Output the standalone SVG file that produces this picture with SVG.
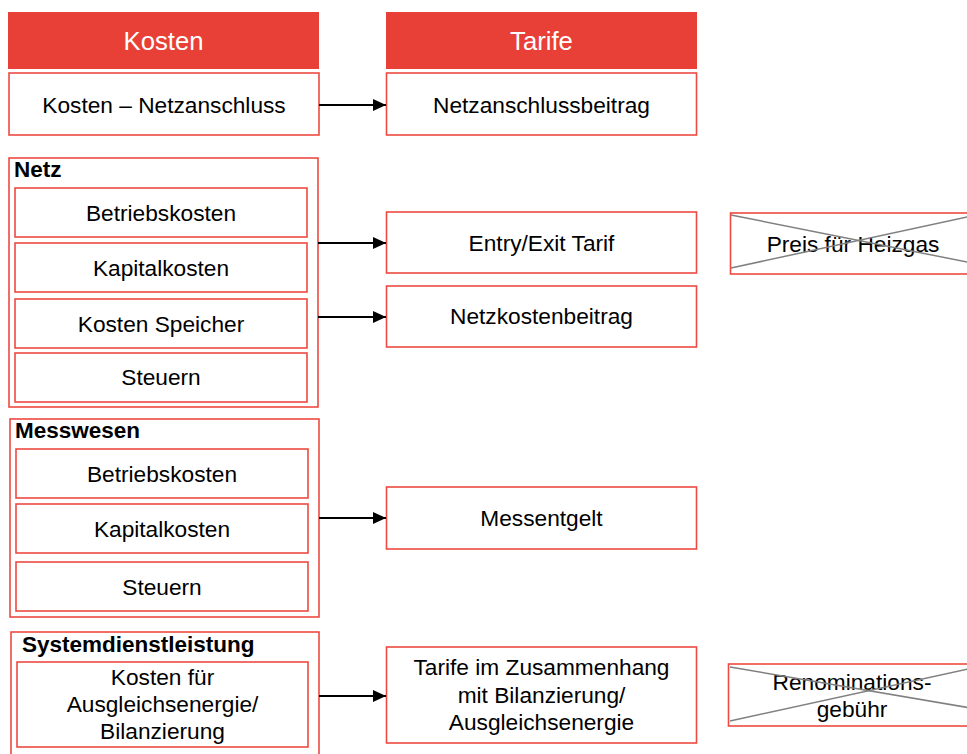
<svg xmlns="http://www.w3.org/2000/svg" width="967" height="754" viewBox="0 0 967 754">
<defs>
<marker id="ah" markerWidth="13" markerHeight="12" refX="13" refY="6" orient="auto" markerUnits="userSpaceOnUse">
<path d="M0,0 L13,6 L0,12 Z" fill="#000"/>
</marker>
<style>
.hdr{fill:#e84037;}
.box{fill:#fff;stroke:#ee4a42;stroke-width:1.6;}
.grp{fill:none;stroke:#ee4a42;stroke-width:1.6;}
.t{font-family:"Liberation Sans",Arial,sans-serif;font-size:22.7px;fill:#000;text-anchor:middle;}
.h{font-family:"Liberation Sans",Arial,sans-serif;font-size:25.7px;fill:#fff;text-anchor:middle;}
.b{font-family:"Liberation Sans",Arial,sans-serif;font-size:22.5px;font-weight:bold;fill:#000;}
.x{stroke:#808080;stroke-width:1.5;fill:none;}
.c{stroke:#000;stroke-width:2;fill:none;marker-end:url(#ah);}
</style>
</defs>
<rect width="967" height="754" fill="#fff"/>

<g id="hdr-kosten"><rect class="hdr" x="8" y="12" width="311" height="57"/><text class="h" x="163.5" y="50">Kosten</text></g>
<g id="hdr-tarife"><rect class="hdr" x="386" y="12" width="311" height="57"/><text class="h" x="541.5" y="50">Tarife</text></g>

<g id="kosten-netzanschluss"><rect class="box" x="9" y="73" width="310" height="62"/><text class="t" x="164" y="113">Kosten – Netzanschluss</text></g>
<g id="netzanschlussbeitrag"><rect class="box" x="386.5" y="73" width="310" height="62"/><text class="t" x="541.5" y="113">Netzanschlussbeitrag</text></g>

<g id="netz">
<rect class="grp" x="9" y="158" width="309" height="249"/>
<text class="b" x="14" y="177">Netz</text>
<rect class="box" x="15" y="188" width="292" height="49"/><text class="t" x="161" y="221">Betriebskosten</text>
<rect class="box" x="15" y="243" width="292" height="49"/><text class="t" x="161" y="276">Kapitalkosten</text>
<rect class="box" x="15" y="299" width="292" height="49"/><text class="t" x="161" y="332">Kosten Speicher</text>
<rect class="box" x="15" y="353" width="292" height="49"/><text class="t" x="161" y="385">Steuern</text>
</g>

<g id="entry-exit"><rect class="box" x="386.5" y="212" width="310" height="61"/><text class="t" x="541.5" y="251">Entry/Exit Tarif</text></g>
<g id="netzkostenbeitrag"><rect class="box" x="386.5" y="286" width="310" height="61"/><text class="t" x="541.5" y="324">Netzkostenbeitrag</text></g>

<g id="preis-heizgas">
<rect class="box" x="730.5" y="213" width="310" height="61"/>
<text class="t" x="853" y="252">Preis für Heizgas</text>
<line class="x" x1="731" y1="215" x2="1000" y2="268.6"/>
<line class="x" x1="731" y1="268" x2="1000" y2="209.9"/>
</g>

<g id="messwesen">
<rect class="grp" x="10" y="419" width="309" height="198"/>
<text class="b" x="15" y="438">Messwesen</text>
<rect class="box" x="16" y="449" width="292" height="49"/><text class="t" x="162" y="482">Betriebskosten</text>
<rect class="box" x="16" y="504" width="292" height="49"/><text class="t" x="162" y="537">Kapitalkosten</text>
<rect class="box" x="16" y="562" width="292" height="49"/><text class="t" x="162" y="595">Steuern</text>
</g>

<g id="messentgelt"><rect class="box" x="386.5" y="487" width="310" height="62"/><text class="t" x="541.5" y="526">Messentgelt</text></g>

<g id="systemdienstleistung">
<rect class="grp" x="11" y="632" width="308" height="130"/>
<text class="b" x="22" y="652">Systemdienstleistung</text>
<rect class="box" x="17" y="662" width="291" height="85"/>
<text class="t" x="162.5" y="685">Kosten für</text>
<text class="t" x="162.5" y="712">Ausgleichsenergie/</text>
<text class="t" x="162.5" y="739">Bilanzierung</text>
</g>

<g id="tarife-bilanzierung">
<rect class="box" x="386.5" y="647" width="310" height="96"/>
<text class="t" x="541.5" y="675">Tarife im Zusammenhang</text>
<text class="t" x="541.5" y="703">mit Bilanzierung/</text>
<text class="t" x="541.5" y="730">Ausgleichsenergie</text>
</g>

<g id="renominationsgebuehr">
<rect class="box" x="728.5" y="664" width="310" height="62"/>
<text class="t" x="852" y="690">Renominations-</text>
<text class="t" x="852" y="717">gebühr</text>
<line class="x" x1="730" y1="667" x2="1000" y2="713"/>
<line class="x" x1="730" y1="721" x2="1000" y2="662"/>
</g>

<g id="connectors">
<line class="c" x1="319" y1="105" x2="386" y2="105"/>
<line class="c" x1="318" y1="243" x2="386" y2="243"/>
<line class="c" x1="318" y1="317" x2="386" y2="317"/>
<line class="c" x1="319" y1="518" x2="386" y2="518"/>
<line class="c" x1="319" y1="696" x2="386" y2="696"/>
</g>
</svg>
